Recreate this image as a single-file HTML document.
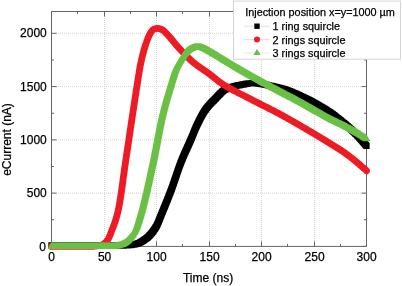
<!DOCTYPE html>
<html><head><meta charset="utf-8"><style>
html,body{margin:0;padding:0;background:#fff;}
body{width:402px;height:286px;overflow:hidden;position:relative;font-family:"Liberation Sans",sans-serif;}
svg{position:absolute;left:0;top:0;will-change:transform;}
text{font-family:"Liberation Sans",sans-serif;font-size:12px;fill:#000;stroke:#000;stroke-width:0.25px;}
text.lg{font-size:10.85px;}
</style></head><body>
<svg width="402" height="286" viewBox="0 0 402 286">
<rect x="0" y="0" width="402" height="286" fill="#ffffff"/>
<g stroke="#d6d6d6" stroke-width="1" stroke-dasharray="1,1" fill="none"><line x1="104.50" y1="12" x2="104.50" y2="246.4"/><line x1="156.50" y1="12" x2="156.50" y2="246.4"/><line x1="209.50" y1="12" x2="209.50" y2="246.4"/><line x1="261.50" y1="12" x2="261.50" y2="246.4"/><line x1="314.50" y1="12" x2="314.50" y2="246.4"/><line x1="52" y1="193.13" x2="366.5" y2="193.13"/><line x1="52" y1="139.86" x2="366.5" y2="139.86"/><line x1="52" y1="86.59" x2="366.5" y2="86.59"/><line x1="52" y1="33.32" x2="366.5" y2="33.32"/></g>
<rect x="51.5" y="11.5" width="315.00" height="234.90" fill="none" stroke="#666" stroke-width="1"/>
<g stroke="#666" stroke-width="1"><line x1="51.50" y1="246.4" x2="51.50" y2="241.4"/><line x1="51.50" y1="11.5" x2="51.50" y2="16.5"/><line x1="77.50" y1="246.4" x2="77.50" y2="243.9"/><line x1="77.50" y1="11.5" x2="77.50" y2="14.0"/><line x1="104.50" y1="246.4" x2="104.50" y2="241.4"/><line x1="104.50" y1="11.5" x2="104.50" y2="16.5"/><line x1="130.50" y1="246.4" x2="130.50" y2="243.9"/><line x1="130.50" y1="11.5" x2="130.50" y2="14.0"/><line x1="156.50" y1="246.4" x2="156.50" y2="241.4"/><line x1="156.50" y1="11.5" x2="156.50" y2="16.5"/><line x1="182.50" y1="246.4" x2="182.50" y2="243.9"/><line x1="182.50" y1="11.5" x2="182.50" y2="14.0"/><line x1="209.50" y1="246.4" x2="209.50" y2="241.4"/><line x1="209.50" y1="11.5" x2="209.50" y2="16.5"/><line x1="235.50" y1="246.4" x2="235.50" y2="243.9"/><line x1="235.50" y1="11.5" x2="235.50" y2="14.0"/><line x1="261.50" y1="246.4" x2="261.50" y2="241.4"/><line x1="261.50" y1="11.5" x2="261.50" y2="16.5"/><line x1="287.50" y1="246.4" x2="287.50" y2="243.9"/><line x1="287.50" y1="11.5" x2="287.50" y2="14.0"/><line x1="314.50" y1="246.4" x2="314.50" y2="241.4"/><line x1="314.50" y1="11.5" x2="314.50" y2="16.5"/><line x1="340.50" y1="246.4" x2="340.50" y2="243.9"/><line x1="340.50" y1="11.5" x2="340.50" y2="14.0"/><line x1="366.50" y1="246.4" x2="366.50" y2="241.4"/><line x1="366.50" y1="11.5" x2="366.50" y2="16.5"/><line x1="51.5" y1="246.40" x2="56.5" y2="246.40"/><line x1="366.5" y1="246.40" x2="361.5" y2="246.40"/><line x1="51.5" y1="219.77" x2="54.0" y2="219.77"/><line x1="366.5" y1="219.77" x2="364.0" y2="219.77"/><line x1="51.5" y1="193.13" x2="56.5" y2="193.13"/><line x1="366.5" y1="193.13" x2="361.5" y2="193.13"/><line x1="51.5" y1="166.50" x2="54.0" y2="166.50"/><line x1="366.5" y1="166.50" x2="364.0" y2="166.50"/><line x1="51.5" y1="139.86" x2="56.5" y2="139.86"/><line x1="366.5" y1="139.86" x2="361.5" y2="139.86"/><line x1="51.5" y1="113.22" x2="54.0" y2="113.22"/><line x1="366.5" y1="113.22" x2="364.0" y2="113.22"/><line x1="51.5" y1="86.59" x2="56.5" y2="86.59"/><line x1="366.5" y1="86.59" x2="361.5" y2="86.59"/><line x1="51.5" y1="59.95" x2="54.0" y2="59.95"/><line x1="366.5" y1="59.95" x2="364.0" y2="59.95"/><line x1="51.5" y1="33.32" x2="56.5" y2="33.32"/><line x1="366.5" y1="33.32" x2="361.5" y2="33.32"/></g>
<path d="M48.35,242.35h6.3v6.3h-6.3zM49.35,242.35h6.3v6.3h-6.3zM50.35,242.35h6.3v6.3h-6.3zM51.36,242.35h6.3v6.3h-6.3zM52.36,242.35h6.3v6.3h-6.3zM53.36,242.35h6.3v6.3h-6.3zM54.36,242.35h6.3v6.3h-6.3zM55.37,242.35h6.3v6.3h-6.3zM56.37,242.35h6.3v6.3h-6.3zM57.37,242.35h6.3v6.3h-6.3zM58.37,242.35h6.3v6.3h-6.3zM59.37,242.35h6.3v6.3h-6.3zM60.38,242.35h6.3v6.3h-6.3zM61.38,242.35h6.3v6.3h-6.3zM62.38,242.35h6.3v6.3h-6.3zM63.38,242.35h6.3v6.3h-6.3zM64.39,242.35h6.3v6.3h-6.3zM65.39,242.35h6.3v6.3h-6.3zM66.39,242.35h6.3v6.3h-6.3zM67.39,242.35h6.3v6.3h-6.3zM68.39,242.35h6.3v6.3h-6.3zM69.40,242.35h6.3v6.3h-6.3zM70.40,242.35h6.3v6.3h-6.3zM71.40,242.35h6.3v6.3h-6.3zM72.40,242.35h6.3v6.3h-6.3zM73.41,242.35h6.3v6.3h-6.3zM74.41,242.35h6.3v6.3h-6.3zM75.41,242.35h6.3v6.3h-6.3zM76.41,242.35h6.3v6.3h-6.3zM77.41,242.35h6.3v6.3h-6.3zM78.42,242.35h6.3v6.3h-6.3zM79.42,242.35h6.3v6.3h-6.3zM80.42,242.35h6.3v6.3h-6.3zM81.42,242.35h6.3v6.3h-6.3zM82.43,242.35h6.3v6.3h-6.3zM83.43,242.35h6.3v6.3h-6.3zM84.43,242.35h6.3v6.3h-6.3zM85.43,242.35h6.3v6.3h-6.3zM86.44,242.35h6.3v6.3h-6.3zM87.44,242.35h6.3v6.3h-6.3zM88.44,242.35h6.3v6.3h-6.3zM89.44,242.35h6.3v6.3h-6.3zM90.44,242.35h6.3v6.3h-6.3zM91.45,242.35h6.3v6.3h-6.3zM92.45,242.35h6.3v6.3h-6.3zM93.45,242.35h6.3v6.3h-6.3zM94.45,242.35h6.3v6.3h-6.3zM95.46,242.35h6.3v6.3h-6.3zM96.46,242.35h6.3v6.3h-6.3zM97.46,242.35h6.3v6.3h-6.3zM98.46,242.35h6.3v6.3h-6.3zM99.46,242.35h6.3v6.3h-6.3zM100.47,242.35h6.3v6.3h-6.3zM101.47,242.35h6.3v6.3h-6.3zM102.47,242.35h6.3v6.3h-6.3zM103.47,242.35h6.3v6.3h-6.3zM104.48,242.35h6.3v6.3h-6.3zM105.48,242.35h6.3v6.3h-6.3zM106.48,242.35h6.3v6.3h-6.3zM107.48,242.35h6.3v6.3h-6.3zM108.48,242.35h6.3v6.3h-6.3zM109.49,242.35h6.3v6.3h-6.3zM110.49,242.35h6.3v6.3h-6.3zM111.49,242.35h6.3v6.3h-6.3zM112.49,242.35h6.3v6.3h-6.3zM113.50,242.35h6.3v6.3h-6.3zM114.50,242.35h6.3v6.3h-6.3zM115.50,242.35h6.3v6.3h-6.3zM116.50,242.35h6.3v6.3h-6.3zM117.50,242.35h6.3v6.3h-6.3zM118.51,242.35h6.3v6.3h-6.3zM119.51,242.35h6.3v6.3h-6.3zM120.51,242.35h6.3v6.3h-6.3zM121.51,242.32h6.3v6.3h-6.3zM122.51,242.28h6.3v6.3h-6.3zM123.51,242.22h6.3v6.3h-6.3zM124.51,242.15h6.3v6.3h-6.3zM125.51,242.05h6.3v6.3h-6.3zM126.51,241.95h6.3v6.3h-6.3zM127.50,241.83h6.3v6.3h-6.3zM128.50,241.70h6.3v6.3h-6.3zM129.49,241.56h6.3v6.3h-6.3zM130.48,241.41h6.3v6.3h-6.3zM131.47,241.26h6.3v6.3h-6.3zM132.45,241.05h6.3v6.3h-6.3zM133.42,240.78h6.3v6.3h-6.3zM134.36,240.44h6.3v6.3h-6.3zM135.29,240.06h6.3v6.3h-6.3zM136.19,239.64h6.3v6.3h-6.3zM137.09,239.18h6.3v6.3h-6.3zM137.96,238.69h6.3v6.3h-6.3zM138.83,238.18h6.3v6.3h-6.3zM139.68,237.66h6.3v6.3h-6.3zM140.52,237.11h6.3v6.3h-6.3zM141.36,236.56h6.3v6.3h-6.3zM142.19,236.00h6.3v6.3h-6.3zM143.00,235.41h6.3v6.3h-6.3zM143.79,234.79h6.3v6.3h-6.3zM144.54,234.14h6.3v6.3h-6.3zM145.28,233.45h6.3v6.3h-6.3zM145.99,232.75h6.3v6.3h-6.3zM146.68,232.02h6.3v6.3h-6.3zM147.35,231.27h6.3v6.3h-6.3zM148.00,230.51h6.3v6.3h-6.3zM148.63,229.73h6.3v6.3h-6.3zM149.25,228.95h6.3v6.3h-6.3zM149.86,228.15h6.3v6.3h-6.3zM150.45,227.34h6.3v6.3h-6.3zM151.02,226.52h6.3v6.3h-6.3zM151.59,225.69h6.3v6.3h-6.3zM152.14,224.85h6.3v6.3h-6.3zM152.68,224.01h6.3v6.3h-6.3zM153.19,223.14h6.3v6.3h-6.3zM153.66,222.26h6.3v6.3h-6.3zM154.10,221.36h6.3v6.3h-6.3zM154.52,220.45h6.3v6.3h-6.3zM154.93,219.53h6.3v6.3h-6.3zM155.32,218.61h6.3v6.3h-6.3zM155.70,217.69h6.3v6.3h-6.3zM156.08,216.76h6.3v6.3h-6.3zM156.46,215.83h6.3v6.3h-6.3zM156.82,214.90h6.3v6.3h-6.3zM157.19,213.96h6.3v6.3h-6.3zM157.56,213.03h6.3v6.3h-6.3zM157.93,212.10h6.3v6.3h-6.3zM158.30,211.17h6.3v6.3h-6.3zM158.67,210.24h6.3v6.3h-6.3zM159.05,209.31h6.3v6.3h-6.3zM159.44,208.39h6.3v6.3h-6.3zM159.82,207.46h6.3v6.3h-6.3zM160.21,206.54h6.3v6.3h-6.3zM160.59,205.61h6.3v6.3h-6.3zM160.98,204.68h6.3v6.3h-6.3zM161.36,203.76h6.3v6.3h-6.3zM161.74,202.83h6.3v6.3h-6.3zM162.12,201.90h6.3v6.3h-6.3zM162.50,200.97h6.3v6.3h-6.3zM162.87,200.05h6.3v6.3h-6.3zM163.25,199.12h6.3v6.3h-6.3zM163.62,198.19h6.3v6.3h-6.3zM164.00,197.26h6.3v6.3h-6.3zM164.37,196.33h6.3v6.3h-6.3zM164.74,195.39h6.3v6.3h-6.3zM165.11,194.46h6.3v6.3h-6.3zM165.47,193.53h6.3v6.3h-6.3zM165.84,192.60h6.3v6.3h-6.3zM166.20,191.66h6.3v6.3h-6.3zM166.56,190.73h6.3v6.3h-6.3zM166.92,189.79h6.3v6.3h-6.3zM167.28,188.86h6.3v6.3h-6.3zM167.64,187.92h6.3v6.3h-6.3zM167.99,186.98h6.3v6.3h-6.3zM168.34,186.04h6.3v6.3h-6.3zM168.69,185.10h6.3v6.3h-6.3zM169.03,184.16h6.3v6.3h-6.3zM169.36,183.21h6.3v6.3h-6.3zM169.70,182.27h6.3v6.3h-6.3zM170.03,181.32h6.3v6.3h-6.3zM170.36,180.38h6.3v6.3h-6.3zM170.69,179.43h6.3v6.3h-6.3zM171.01,178.48h6.3v6.3h-6.3zM171.34,177.53h6.3v6.3h-6.3zM171.66,176.58h6.3v6.3h-6.3zM171.98,175.64h6.3v6.3h-6.3zM172.30,174.69h6.3v6.3h-6.3zM172.62,173.74h6.3v6.3h-6.3zM172.94,172.79h6.3v6.3h-6.3zM173.27,171.84h6.3v6.3h-6.3zM173.59,170.89h6.3v6.3h-6.3zM173.91,169.94h6.3v6.3h-6.3zM174.24,168.99h6.3v6.3h-6.3zM174.56,168.04h6.3v6.3h-6.3zM174.89,167.10h6.3v6.3h-6.3zM175.22,166.15h6.3v6.3h-6.3zM175.55,165.21h6.3v6.3h-6.3zM175.89,164.26h6.3v6.3h-6.3zM176.23,163.32h6.3v6.3h-6.3zM176.57,162.38h6.3v6.3h-6.3zM176.92,161.44h6.3v6.3h-6.3zM177.28,160.50h6.3v6.3h-6.3zM177.64,159.57h6.3v6.3h-6.3zM178.00,158.63h6.3v6.3h-6.3zM178.37,157.70h6.3v6.3h-6.3zM178.75,156.77h6.3v6.3h-6.3zM179.13,155.85h6.3v6.3h-6.3zM179.51,154.92h6.3v6.3h-6.3zM179.90,154.00h6.3v6.3h-6.3zM180.30,153.07h6.3v6.3h-6.3zM180.69,152.15h6.3v6.3h-6.3zM181.09,151.24h6.3v6.3h-6.3zM181.50,150.32h6.3v6.3h-6.3zM181.90,149.40h6.3v6.3h-6.3zM182.31,148.49h6.3v6.3h-6.3zM182.72,147.57h6.3v6.3h-6.3zM183.13,146.66h6.3v6.3h-6.3zM183.55,145.74h6.3v6.3h-6.3zM183.96,144.83h6.3v6.3h-6.3zM184.37,143.92h6.3v6.3h-6.3zM184.79,143.01h6.3v6.3h-6.3zM185.20,142.09h6.3v6.3h-6.3zM185.61,141.18h6.3v6.3h-6.3zM186.02,140.26h6.3v6.3h-6.3zM186.43,139.35h6.3v6.3h-6.3zM186.83,138.43h6.3v6.3h-6.3zM187.24,137.51h6.3v6.3h-6.3zM187.64,136.59h6.3v6.3h-6.3zM188.03,135.67h6.3v6.3h-6.3zM188.42,134.75h6.3v6.3h-6.3zM188.81,133.83h6.3v6.3h-6.3zM189.19,132.90h6.3v6.3h-6.3zM189.57,131.97h6.3v6.3h-6.3zM189.95,131.04h6.3v6.3h-6.3zM190.33,130.12h6.3v6.3h-6.3zM190.70,129.19h6.3v6.3h-6.3zM191.08,128.26h6.3v6.3h-6.3zM191.47,127.33h6.3v6.3h-6.3zM191.85,126.41h6.3v6.3h-6.3zM192.25,125.49h6.3v6.3h-6.3zM192.64,124.57h6.3v6.3h-6.3zM193.05,123.65h6.3v6.3h-6.3zM193.47,122.74h6.3v6.3h-6.3zM193.89,121.83h6.3v6.3h-6.3zM194.33,120.93h6.3v6.3h-6.3zM194.77,120.03h6.3v6.3h-6.3zM195.21,119.13h6.3v6.3h-6.3zM195.65,118.23h6.3v6.3h-6.3zM196.10,117.33h6.3v6.3h-6.3zM196.55,116.44h6.3v6.3h-6.3zM197.00,115.54h6.3v6.3h-6.3zM197.46,114.65h6.3v6.3h-6.3zM197.93,113.77h6.3v6.3h-6.3zM198.40,112.88h6.3v6.3h-6.3zM198.89,112.01h6.3v6.3h-6.3zM199.38,111.13h6.3v6.3h-6.3zM199.89,110.27h6.3v6.3h-6.3zM200.40,109.41h6.3v6.3h-6.3zM200.94,108.56h6.3v6.3h-6.3zM201.49,107.72h6.3v6.3h-6.3zM202.06,106.90h6.3v6.3h-6.3zM202.65,106.09h6.3v6.3h-6.3zM203.25,105.29h6.3v6.3h-6.3zM203.87,104.50h6.3v6.3h-6.3zM204.50,103.72h6.3v6.3h-6.3zM205.15,102.96h6.3v6.3h-6.3zM205.80,102.20h6.3v6.3h-6.3zM206.47,101.45h6.3v6.3h-6.3zM207.15,100.71h6.3v6.3h-6.3zM207.84,99.99h6.3v6.3h-6.3zM208.53,99.26h6.3v6.3h-6.3zM209.24,98.55h6.3v6.3h-6.3zM209.94,97.84h6.3v6.3h-6.3zM210.65,97.13h6.3v6.3h-6.3zM211.36,96.42h6.3v6.3h-6.3zM212.06,95.71h6.3v6.3h-6.3zM212.76,94.99h6.3v6.3h-6.3zM213.46,94.26h6.3v6.3h-6.3zM214.14,93.53h6.3v6.3h-6.3zM214.82,92.80h6.3v6.3h-6.3zM215.50,92.06h6.3v6.3h-6.3zM216.19,91.33h6.3v6.3h-6.3zM216.88,90.61h6.3v6.3h-6.3zM217.59,89.89h6.3v6.3h-6.3zM218.31,89.20h6.3v6.3h-6.3zM219.05,88.53h6.3v6.3h-6.3zM219.82,87.89h6.3v6.3h-6.3zM220.63,87.29h6.3v6.3h-6.3zM221.48,86.76h6.3v6.3h-6.3zM222.38,86.31h6.3v6.3h-6.3zM223.29,85.90h6.3v6.3h-6.3zM224.21,85.51h6.3v6.3h-6.3zM225.14,85.13h6.3v6.3h-6.3zM226.08,84.78h6.3v6.3h-6.3zM227.02,84.44h6.3v6.3h-6.3zM227.97,84.12h6.3v6.3h-6.3zM228.93,83.82h6.3v6.3h-6.3zM229.89,83.53h6.3v6.3h-6.3zM230.85,83.26h6.3v6.3h-6.3zM231.82,83.01h6.3v6.3h-6.3zM232.79,82.77h6.3v6.3h-6.3zM233.77,82.54h6.3v6.3h-6.3zM234.75,82.32h6.3v6.3h-6.3zM235.73,82.11h6.3v6.3h-6.3zM236.71,81.91h6.3v6.3h-6.3zM237.69,81.71h6.3v6.3h-6.3zM238.68,81.52h6.3v6.3h-6.3zM239.66,81.33h6.3v6.3h-6.3zM240.64,81.13h6.3v6.3h-6.3zM241.63,80.94h6.3v6.3h-6.3zM242.61,80.76h6.3v6.3h-6.3zM243.60,80.59h6.3v6.3h-6.3zM244.59,80.43h6.3v6.3h-6.3zM245.58,80.31h6.3v6.3h-6.3zM246.58,80.21h6.3v6.3h-6.3zM247.58,80.14h6.3v6.3h-6.3zM248.58,80.11h6.3v6.3h-6.3zM249.59,80.11h6.3v6.3h-6.3zM250.59,80.14h6.3v6.3h-6.3zM251.59,80.18h6.3v6.3h-6.3zM252.59,80.24h6.3v6.3h-6.3zM253.59,80.31h6.3v6.3h-6.3zM254.59,80.41h6.3v6.3h-6.3zM255.58,80.51h6.3v6.3h-6.3zM256.58,80.63h6.3v6.3h-6.3zM257.57,80.76h6.3v6.3h-6.3zM258.56,80.91h6.3v6.3h-6.3zM259.55,81.06h6.3v6.3h-6.3zM260.54,81.23h6.3v6.3h-6.3zM261.53,81.41h6.3v6.3h-6.3zM262.51,81.59h6.3v6.3h-6.3zM263.50,81.79h6.3v6.3h-6.3zM264.48,81.99h6.3v6.3h-6.3zM265.46,82.20h6.3v6.3h-6.3zM266.44,82.41h6.3v6.3h-6.3zM267.42,82.63h6.3v6.3h-6.3zM268.39,82.85h6.3v6.3h-6.3zM269.37,83.08h6.3v6.3h-6.3zM270.34,83.31h6.3v6.3h-6.3zM271.32,83.55h6.3v6.3h-6.3zM272.29,83.78h6.3v6.3h-6.3zM273.27,84.02h6.3v6.3h-6.3zM274.24,84.26h6.3v6.3h-6.3zM275.21,84.50h6.3v6.3h-6.3zM276.19,84.73h6.3v6.3h-6.3zM277.16,84.97h6.3v6.3h-6.3zM278.13,85.22h6.3v6.3h-6.3zM279.10,85.48h6.3v6.3h-6.3zM280.06,85.77h6.3v6.3h-6.3zM281.02,86.06h6.3v6.3h-6.3zM281.97,86.37h6.3v6.3h-6.3zM282.92,86.70h6.3v6.3h-6.3zM283.86,87.03h6.3v6.3h-6.3zM284.80,87.38h6.3v6.3h-6.3zM285.74,87.73h6.3v6.3h-6.3zM286.67,88.10h6.3v6.3h-6.3zM287.60,88.47h6.3v6.3h-6.3zM288.53,88.85h6.3v6.3h-6.3zM289.45,89.24h6.3v6.3h-6.3zM290.38,89.64h6.3v6.3h-6.3zM291.29,90.04h6.3v6.3h-6.3zM292.21,90.45h6.3v6.3h-6.3zM293.12,90.86h6.3v6.3h-6.3zM294.04,91.27h6.3v6.3h-6.3zM294.95,91.69h6.3v6.3h-6.3zM295.86,92.11h6.3v6.3h-6.3zM296.76,92.54h6.3v6.3h-6.3zM297.67,92.96h6.3v6.3h-6.3zM298.58,93.39h6.3v6.3h-6.3zM299.48,93.82h6.3v6.3h-6.3zM300.39,94.25h6.3v6.3h-6.3zM301.30,94.68h6.3v6.3h-6.3zM302.20,95.11h6.3v6.3h-6.3zM303.10,95.54h6.3v6.3h-6.3zM304.01,95.98h6.3v6.3h-6.3zM304.90,96.42h6.3v6.3h-6.3zM305.80,96.87h6.3v6.3h-6.3zM306.69,97.33h6.3v6.3h-6.3zM307.58,97.79h6.3v6.3h-6.3zM308.47,98.25h6.3v6.3h-6.3zM309.36,98.72h6.3v6.3h-6.3zM310.24,99.20h6.3v6.3h-6.3zM311.12,99.68h6.3v6.3h-6.3zM311.99,100.16h6.3v6.3h-6.3zM312.87,100.65h6.3v6.3h-6.3zM313.74,101.15h6.3v6.3h-6.3zM314.61,101.65h6.3v6.3h-6.3zM315.48,102.15h6.3v6.3h-6.3zM316.34,102.66h6.3v6.3h-6.3zM317.20,103.17h6.3v6.3h-6.3zM318.06,103.69h6.3v6.3h-6.3zM318.92,104.21h6.3v6.3h-6.3zM319.77,104.73h6.3v6.3h-6.3zM320.62,105.26h6.3v6.3h-6.3zM321.47,105.79h6.3v6.3h-6.3zM322.32,106.33h6.3v6.3h-6.3zM323.17,106.87h6.3v6.3h-6.3zM324.01,107.41h6.3v6.3h-6.3zM324.85,107.96h6.3v6.3h-6.3zM325.69,108.51h6.3v6.3h-6.3zM326.52,109.06h6.3v6.3h-6.3zM327.35,109.62h6.3v6.3h-6.3zM328.18,110.19h6.3v6.3h-6.3zM328.99,110.77h6.3v6.3h-6.3zM329.81,111.36h6.3v6.3h-6.3zM330.61,111.95h6.3v6.3h-6.3zM331.42,112.55h6.3v6.3h-6.3zM332.21,113.16h6.3v6.3h-6.3zM333.01,113.77h6.3v6.3h-6.3zM333.80,114.39h6.3v6.3h-6.3zM334.58,115.01h6.3v6.3h-6.3zM335.36,115.64h6.3v6.3h-6.3zM336.14,116.27h6.3v6.3h-6.3zM336.92,116.90h6.3v6.3h-6.3zM337.70,117.53h6.3v6.3h-6.3zM338.47,118.17h6.3v6.3h-6.3zM339.25,118.81h6.3v6.3h-6.3zM340.02,119.45h6.3v6.3h-6.3zM340.79,120.09h6.3v6.3h-6.3zM341.56,120.73h6.3v6.3h-6.3zM342.33,121.37h6.3v6.3h-6.3zM343.09,122.02h6.3v6.3h-6.3zM343.86,122.67h6.3v6.3h-6.3zM344.62,123.32h6.3v6.3h-6.3zM345.38,123.97h6.3v6.3h-6.3zM346.13,124.63h6.3v6.3h-6.3zM346.88,125.30h6.3v6.3h-6.3zM347.62,125.97h6.3v6.3h-6.3zM348.36,126.65h6.3v6.3h-6.3zM349.10,127.33h6.3v6.3h-6.3zM349.83,128.01h6.3v6.3h-6.3zM350.55,128.71h6.3v6.3h-6.3zM351.27,129.41h6.3v6.3h-6.3zM351.98,130.11h6.3v6.3h-6.3zM352.69,130.82h6.3v6.3h-6.3zM353.39,131.54h6.3v6.3h-6.3zM354.09,132.26h6.3v6.3h-6.3zM354.78,132.99h6.3v6.3h-6.3zM355.46,133.72h6.3v6.3h-6.3zM356.14,134.45h6.3v6.3h-6.3zM356.82,135.19h6.3v6.3h-6.3zM357.49,135.94h6.3v6.3h-6.3zM358.16,136.68h6.3v6.3h-6.3zM358.82,137.43h6.3v6.3h-6.3zM359.48,138.19h6.3v6.3h-6.3zM360.14,138.95h6.3v6.3h-6.3zM360.79,139.71h6.3v6.3h-6.3zM361.43,140.48h6.3v6.3h-6.3zM362.08,141.25h6.3v6.3h-6.3zM362.71,142.02h6.3v6.3h-6.3zM363.35,142.79h6.3v6.3h-6.3z" fill="#000"/>
<polyline points="51.50,246.46 52.02,246.46 52.55,246.46 53.08,246.46 53.60,246.46 54.12,246.46 54.65,246.46 55.17,246.46 55.70,246.46 56.23,246.46 56.75,246.46 57.27,246.46 57.80,246.46 58.33,246.46 58.85,246.46 59.38,246.46 59.90,246.46 60.42,246.46 60.95,246.46 61.48,246.46 62.00,246.46 62.52,246.46 63.05,246.46 63.58,246.46 64.10,246.46 64.62,246.46 65.15,246.46 65.67,246.46 66.20,246.46 66.72,246.46 67.25,246.46 67.78,246.46 68.30,246.46 68.83,246.46 69.35,246.46 69.88,246.46 70.40,246.46 70.92,246.46 71.45,246.46 71.97,246.46 72.50,246.46 73.03,246.46 73.55,246.46 74.08,246.46 74.60,246.46 75.12,246.46 75.65,246.46 76.17,246.46 76.70,246.46 77.22,246.46 77.75,246.46 78.28,246.46 78.80,246.46 79.33,246.46 79.85,246.46 80.38,246.46 80.90,246.46 81.42,246.46 81.95,246.46 82.47,246.46 83.00,246.46 83.53,246.46 84.05,246.46 84.58,246.46 85.10,246.46 85.62,246.46 86.15,246.46 86.68,246.46 87.20,246.46 87.72,246.46 88.25,246.46 88.78,246.45 89.30,246.45 89.83,246.44 90.35,246.43 90.88,246.41 91.40,246.39 91.93,246.36 92.45,246.34 92.97,246.30 93.50,246.27 94.03,246.23 94.55,246.19 95.08,246.14 95.60,246.09 96.12,246.04 96.65,245.99 97.18,245.93 97.70,245.86 98.22,245.80 98.75,245.73 99.28,245.66 99.80,245.58 100.33,245.50 100.85,245.39 101.38,245.23 101.90,245.02 102.43,244.76 102.95,244.46 103.47,244.11 104.00,243.73 104.53,243.31 105.05,242.86 105.58,242.39 106.10,241.88 106.62,241.36 107.15,240.76 107.68,240.00 108.20,239.09 108.72,238.05 109.25,236.91 109.78,235.69 110.30,234.40 110.83,233.07 111.35,231.71 111.88,230.36 112.40,229.03 112.93,227.69 113.45,226.32 113.97,224.91 114.50,223.45 115.03,221.92 115.55,220.32 116.08,218.62 116.60,216.83 117.12,214.92 117.65,212.88 118.17,210.68 118.70,208.18 119.23,205.41 119.75,202.39 120.28,199.16 120.80,195.74 121.33,192.18 121.85,188.50 122.38,184.73 122.90,180.91 123.42,177.06 123.95,173.23 124.48,169.43 125.00,165.70 125.53,162.08 126.05,158.58 126.58,155.08 127.10,151.57 127.62,148.04 128.15,144.50 128.68,140.96 129.20,137.41 129.73,133.86 130.25,130.31 130.78,126.77 131.30,123.24 131.82,119.72 132.35,116.22 132.88,112.74 133.40,109.28 133.93,105.82 134.45,102.36 134.98,98.92 135.50,95.50 136.03,92.12 136.55,88.77 137.07,85.46 137.60,82.10 138.12,78.68 138.65,75.28 139.18,71.97 139.70,68.82 140.23,65.90 140.75,63.28 141.28,60.89 141.80,58.60 142.32,56.40 142.85,54.30 143.38,52.29 143.90,50.36 144.43,48.53 144.95,46.78 145.48,45.12 146.00,43.54 146.53,42.03 147.05,40.59 147.57,39.20 148.10,37.88 148.62,36.64 149.15,35.50 149.68,34.45 150.20,33.53 150.73,32.67 151.25,31.82 151.78,31.04 152.30,30.36 152.82,29.83 153.35,29.49 153.88,29.27 154.40,29.07 154.93,28.89 155.45,28.73 155.98,28.61 156.50,28.51 157.03,28.45 157.55,28.43 158.07,28.45 158.60,28.52 159.12,28.63 159.65,28.76 160.18,28.92 160.70,29.10 161.23,29.29 161.75,29.49 162.28,29.74 162.80,30.06 163.32,30.45 163.85,30.90 164.38,31.39 164.90,31.91 165.43,32.47 165.95,33.03 166.48,33.60 167.00,34.16 167.53,34.70 168.05,35.24 168.57,35.80 169.10,36.38 169.62,36.97 170.15,37.58 170.68,38.20 171.20,38.83 171.73,39.46 172.25,40.11 172.78,40.76 173.30,41.41 173.82,42.06 174.35,42.71 174.88,43.35 175.40,43.99 175.93,44.62 176.45,45.24 176.98,45.85 177.50,46.45 178.03,47.03 178.55,47.60 179.07,48.17 179.60,48.74 180.12,49.31 180.65,49.87 181.18,50.44 181.70,51.00 182.22,51.57 182.75,52.13 183.28,52.68 183.80,53.24 184.33,53.79 184.85,54.33 185.38,54.88 185.90,55.41 186.43,55.95 186.95,56.48 187.47,57.00 188.00,57.52 188.53,58.03 189.05,58.54 189.58,59.04 190.10,59.53 190.62,60.01 191.15,60.49 191.68,60.96 192.20,61.42 192.72,61.88 193.25,62.33 193.78,62.76 194.30,63.19 194.83,63.61 195.35,64.02 195.88,64.43 196.40,64.83 196.93,65.22 197.45,65.61 197.97,65.99 198.50,66.37 199.03,66.74 199.55,67.11 200.08,67.48 200.60,67.84 201.12,68.20 201.65,68.56 202.18,68.92 202.70,69.27 203.22,69.63 203.75,69.99 204.28,70.34 204.80,70.70 205.33,71.06 205.85,71.42 206.38,71.78 206.90,72.15 207.43,72.52 207.95,72.89 208.47,73.27 209.00,73.65 209.53,74.04 210.05,74.43 210.58,74.84 211.10,75.24 211.62,75.66 212.15,76.07 212.68,76.49 213.20,76.92 213.72,77.34 214.25,77.77 214.78,78.20 215.30,78.62 215.83,79.05 216.35,79.47 216.88,79.89 217.40,80.31 217.93,80.72 218.45,81.13 218.97,81.53 219.50,81.92 220.03,82.31 220.55,82.68 221.08,83.05 221.60,83.40 222.12,83.75 222.65,84.09 223.18,84.42 223.70,84.75 224.22,85.08 224.75,85.40 225.28,85.72 225.80,86.04 226.33,86.35 226.85,86.66 227.38,86.97 227.90,87.27 228.43,87.57 228.95,87.87 229.47,88.17 230.00,88.46 230.53,88.75 231.05,89.04 231.58,89.33 232.10,89.61 232.62,89.89 233.15,90.17 233.68,90.45 234.20,90.73 234.72,91.00 235.25,91.27 235.78,91.55 236.30,91.82 236.83,92.09 237.35,92.36 237.88,92.62 238.40,92.89 238.93,93.16 239.45,93.42 239.97,93.69 240.50,93.95 241.03,94.22 241.55,94.48 242.08,94.74 242.60,95.01 243.12,95.27 243.65,95.54 244.18,95.80 244.70,96.07 245.22,96.33 245.75,96.60 246.28,96.87 246.80,97.14 247.33,97.41 247.85,97.68 248.38,97.95 248.90,98.22 249.43,98.50 249.95,98.77 250.47,99.05 251.00,99.32 251.53,99.60 252.05,99.87 252.58,100.14 253.10,100.41 253.62,100.68 254.15,100.95 254.68,101.22 255.20,101.49 255.73,101.76 256.25,102.03 256.77,102.29 257.30,102.56 257.83,102.83 258.35,103.09 258.88,103.36 259.40,103.62 259.93,103.89 260.45,104.15 260.98,104.42 261.50,104.68 262.02,104.94 262.55,105.21 263.08,105.47 263.60,105.73 264.12,106.00 264.65,106.26 265.18,106.53 265.70,106.79 266.23,107.06 266.75,107.32 267.27,107.58 267.80,107.85 268.33,108.12 268.85,108.38 269.38,108.65 269.90,108.91 270.43,109.18 270.95,109.45 271.48,109.72 272.00,109.99 272.52,110.26 273.05,110.53 273.58,110.80 274.10,111.07 274.62,111.34 275.15,111.61 275.68,111.89 276.20,112.16 276.73,112.44 277.25,112.72 277.77,112.99 278.30,113.27 278.83,113.55 279.35,113.84 279.88,114.12 280.40,114.40 280.93,114.69 281.45,114.97 281.98,115.26 282.50,115.55 283.02,115.83 283.55,116.12 284.08,116.41 284.60,116.70 285.12,116.99 285.65,117.28 286.18,117.58 286.70,117.87 287.23,118.16 287.75,118.46 288.27,118.75 288.80,119.05 289.33,119.34 289.85,119.64 290.38,119.94 290.90,120.24 291.43,120.53 291.95,120.83 292.48,121.13 293.00,121.43 293.52,121.73 294.05,122.03 294.58,122.34 295.10,122.64 295.62,122.94 296.15,123.24 296.68,123.55 297.20,123.85 297.73,124.15 298.25,124.46 298.77,124.76 299.30,125.06 299.83,125.37 300.35,125.67 300.88,125.98 301.40,126.29 301.93,126.59 302.45,126.90 302.98,127.20 303.50,127.51 304.02,127.82 304.55,128.12 305.08,128.43 305.60,128.74 306.12,129.04 306.65,129.35 307.18,129.66 307.70,129.97 308.23,130.27 308.75,130.58 309.28,130.89 309.80,131.20 310.32,131.51 310.85,131.82 311.38,132.13 311.90,132.44 312.43,132.75 312.95,133.07 313.48,133.38 314.00,133.69 314.53,134.00 315.05,134.31 315.57,134.63 316.10,134.94 316.62,135.26 317.15,135.57 317.68,135.89 318.20,136.20 318.73,136.52 319.25,136.83 319.78,137.15 320.30,137.47 320.82,137.79 321.35,138.10 321.88,138.42 322.40,138.74 322.93,139.06 323.45,139.38 323.98,139.70 324.50,140.02 325.03,140.34 325.55,140.67 326.07,140.99 326.60,141.31 327.12,141.64 327.65,141.96 328.18,142.29 328.70,142.61 329.23,142.94 329.75,143.26 330.28,143.59 330.80,143.92 331.32,144.24 331.85,144.56 332.38,144.89 332.90,145.21 333.43,145.53 333.95,145.86 334.48,146.18 335.00,146.50 335.53,146.83 336.05,147.15 336.57,147.48 337.10,147.80 337.62,148.13 338.15,148.46 338.68,148.80 339.20,149.13 339.73,149.47 340.25,149.81 340.78,150.15 341.30,150.49 341.82,150.84 342.35,151.19 342.88,151.55 343.40,151.91 343.93,152.27 344.45,152.63 344.98,153.01 345.50,153.38 346.03,153.76 346.55,154.14 347.07,154.53 347.60,154.92 348.12,155.31 348.65,155.70 349.18,156.10 349.70,156.50 350.23,156.90 350.75,157.31 351.28,157.72 351.80,158.13 352.32,158.54 352.85,158.96 353.38,159.38 353.90,159.80 354.43,160.23 354.95,160.66 355.48,161.09 356.00,161.52 356.53,161.96 357.05,162.40 357.57,162.84 358.10,163.29 358.62,163.74 359.15,164.19 359.68,164.64 360.20,165.10 360.73,165.56 361.25,166.02 361.78,166.49 362.30,166.96 362.82,167.43 363.35,167.90 363.88,168.38 364.40,168.86 364.93,169.34 365.45,169.83 365.98,170.32 366.50,170.81" fill="none" stroke="#ed1c24" stroke-width="6.8" stroke-linejoin="round" stroke-linecap="round"/>
<path d="M47.50,248.97h8.0l-4.0,-6.93zM48.50,248.97h8.0l-4.0,-6.93zM49.50,248.97h8.0l-4.0,-6.93zM50.50,248.97h8.0l-4.0,-6.93zM51.50,248.97h8.0l-4.0,-6.93zM52.50,248.97h8.0l-4.0,-6.93zM53.50,248.97h8.0l-4.0,-6.93zM54.50,248.97h8.0l-4.0,-6.93zM55.51,248.97h8.0l-4.0,-6.93zM56.51,248.97h8.0l-4.0,-6.93zM57.51,248.97h8.0l-4.0,-6.93zM58.51,248.97h8.0l-4.0,-6.93zM59.51,248.97h8.0l-4.0,-6.93zM60.51,248.97h8.0l-4.0,-6.93zM61.51,248.97h8.0l-4.0,-6.93zM62.51,248.97h8.0l-4.0,-6.93zM63.51,248.97h8.0l-4.0,-6.93zM64.51,248.97h8.0l-4.0,-6.93zM65.51,248.97h8.0l-4.0,-6.93zM66.51,248.97h8.0l-4.0,-6.93zM67.51,248.97h8.0l-4.0,-6.93zM68.51,248.97h8.0l-4.0,-6.93zM69.51,248.97h8.0l-4.0,-6.93zM70.52,248.97h8.0l-4.0,-6.93zM71.52,248.97h8.0l-4.0,-6.93zM72.52,248.97h8.0l-4.0,-6.93zM73.52,248.97h8.0l-4.0,-6.93zM74.52,248.97h8.0l-4.0,-6.93zM75.52,248.97h8.0l-4.0,-6.93zM76.52,248.97h8.0l-4.0,-6.93zM77.52,248.97h8.0l-4.0,-6.93zM78.52,248.97h8.0l-4.0,-6.93zM79.52,248.97h8.0l-4.0,-6.93zM80.52,248.97h8.0l-4.0,-6.93zM81.52,248.97h8.0l-4.0,-6.93zM82.52,248.97h8.0l-4.0,-6.93zM83.52,248.97h8.0l-4.0,-6.93zM84.52,248.97h8.0l-4.0,-6.93zM85.52,248.97h8.0l-4.0,-6.93zM86.53,248.97h8.0l-4.0,-6.93zM87.53,248.97h8.0l-4.0,-6.93zM88.53,248.97h8.0l-4.0,-6.93zM89.53,248.97h8.0l-4.0,-6.93zM90.53,248.97h8.0l-4.0,-6.93zM91.53,248.97h8.0l-4.0,-6.93zM92.53,248.97h8.0l-4.0,-6.93zM93.53,248.97h8.0l-4.0,-6.93zM94.53,248.97h8.0l-4.0,-6.93zM95.53,248.97h8.0l-4.0,-6.93zM96.53,248.97h8.0l-4.0,-6.93zM97.53,248.97h8.0l-4.0,-6.93zM98.53,248.97h8.0l-4.0,-6.93zM99.53,248.97h8.0l-4.0,-6.93zM100.53,248.97h8.0l-4.0,-6.93zM101.54,248.97h8.0l-4.0,-6.93zM102.54,248.97h8.0l-4.0,-6.93zM103.54,248.97h8.0l-4.0,-6.93zM104.54,248.97h8.0l-4.0,-6.93zM105.54,248.97h8.0l-4.0,-6.93zM106.54,248.97h8.0l-4.0,-6.93zM107.54,248.97h8.0l-4.0,-6.93zM108.54,248.96h8.0l-4.0,-6.93zM109.54,248.93h8.0l-4.0,-6.93zM110.54,248.85h8.0l-4.0,-6.93zM111.53,248.72h8.0l-4.0,-6.93zM112.51,248.55h8.0l-4.0,-6.93zM113.49,248.35h8.0l-4.0,-6.93zM114.47,248.12h8.0l-4.0,-6.93zM115.44,247.87h8.0l-4.0,-6.93zM116.41,247.61h8.0l-4.0,-6.93zM117.37,247.34h8.0l-4.0,-6.93zM118.30,246.98h8.0l-4.0,-6.93zM119.20,246.55h8.0l-4.0,-6.93zM120.08,246.06h8.0l-4.0,-6.93zM120.93,245.53h8.0l-4.0,-6.93zM121.76,244.98h8.0l-4.0,-6.93zM122.54,244.35h8.0l-4.0,-6.93zM123.27,243.67h8.0l-4.0,-6.93zM123.97,242.95h8.0l-4.0,-6.93zM124.64,242.21h8.0l-4.0,-6.93zM125.29,241.45h8.0l-4.0,-6.93zM125.94,240.68h8.0l-4.0,-6.93zM126.57,239.91h8.0l-4.0,-6.93zM127.18,239.11h8.0l-4.0,-6.93zM127.77,238.31h8.0l-4.0,-6.93zM128.34,237.49h8.0l-4.0,-6.93zM128.90,236.65h8.0l-4.0,-6.93zM129.43,235.81h8.0l-4.0,-6.93zM129.95,234.95h8.0l-4.0,-6.93zM130.44,234.08h8.0l-4.0,-6.93zM130.92,233.20h8.0l-4.0,-6.93zM131.38,232.31h8.0l-4.0,-6.93zM131.82,231.41h8.0l-4.0,-6.93zM132.23,230.50h8.0l-4.0,-6.93zM132.61,229.58h8.0l-4.0,-6.93zM132.97,228.64h8.0l-4.0,-6.93zM133.32,227.70h8.0l-4.0,-6.93zM133.65,226.76h8.0l-4.0,-6.93zM133.97,225.81h8.0l-4.0,-6.93zM134.28,224.86h8.0l-4.0,-6.93zM134.58,223.91h8.0l-4.0,-6.93zM134.88,222.95h8.0l-4.0,-6.93zM135.17,221.99h8.0l-4.0,-6.93zM135.45,221.03h8.0l-4.0,-6.93zM135.74,220.07h8.0l-4.0,-6.93zM136.02,219.11h8.0l-4.0,-6.93zM136.30,218.15h8.0l-4.0,-6.93zM136.58,217.19h8.0l-4.0,-6.93zM136.85,216.23h8.0l-4.0,-6.93zM137.13,215.27h8.0l-4.0,-6.93zM137.41,214.31h8.0l-4.0,-6.93zM137.68,213.34h8.0l-4.0,-6.93zM137.94,212.38h8.0l-4.0,-6.93zM138.21,211.41h8.0l-4.0,-6.93zM138.47,210.45h8.0l-4.0,-6.93zM138.72,209.48h8.0l-4.0,-6.93zM138.98,208.51h8.0l-4.0,-6.93zM139.23,207.54h8.0l-4.0,-6.93zM139.48,206.57h8.0l-4.0,-6.93zM139.72,205.60h8.0l-4.0,-6.93zM139.97,204.63h8.0l-4.0,-6.93zM140.21,203.66h8.0l-4.0,-6.93zM140.45,202.69h8.0l-4.0,-6.93zM140.69,201.72h8.0l-4.0,-6.93zM140.92,200.75h8.0l-4.0,-6.93zM141.16,199.77h8.0l-4.0,-6.93zM141.39,198.80h8.0l-4.0,-6.93zM141.62,197.83h8.0l-4.0,-6.93zM141.85,196.85h8.0l-4.0,-6.93zM142.08,195.88h8.0l-4.0,-6.93zM142.31,194.91h8.0l-4.0,-6.93zM142.53,193.93h8.0l-4.0,-6.93zM142.76,192.95h8.0l-4.0,-6.93zM142.98,191.98h8.0l-4.0,-6.93zM143.20,191.00h8.0l-4.0,-6.93zM143.42,190.03h8.0l-4.0,-6.93zM143.64,189.05h8.0l-4.0,-6.93zM143.86,188.08h8.0l-4.0,-6.93zM144.08,187.10h8.0l-4.0,-6.93zM144.30,186.12h8.0l-4.0,-6.93zM144.52,185.15h8.0l-4.0,-6.93zM144.73,184.17h8.0l-4.0,-6.93zM144.95,183.19h8.0l-4.0,-6.93zM145.16,182.21h8.0l-4.0,-6.93zM145.38,181.24h8.0l-4.0,-6.93zM145.59,180.26h8.0l-4.0,-6.93zM145.81,179.28h8.0l-4.0,-6.93zM146.02,178.30h8.0l-4.0,-6.93zM146.23,177.33h8.0l-4.0,-6.93zM146.45,176.35h8.0l-4.0,-6.93zM146.66,175.37h8.0l-4.0,-6.93zM146.87,174.39h8.0l-4.0,-6.93zM147.08,173.42h8.0l-4.0,-6.93zM147.30,172.44h8.0l-4.0,-6.93zM147.51,171.46h8.0l-4.0,-6.93zM147.72,170.48h8.0l-4.0,-6.93zM147.93,169.50h8.0l-4.0,-6.93zM148.14,168.53h8.0l-4.0,-6.93zM148.35,167.55h8.0l-4.0,-6.93zM148.57,166.57h8.0l-4.0,-6.93zM148.78,165.59h8.0l-4.0,-6.93zM148.99,164.61h8.0l-4.0,-6.93zM149.20,163.64h8.0l-4.0,-6.93zM149.41,162.66h8.0l-4.0,-6.93zM149.62,161.68h8.0l-4.0,-6.93zM149.83,160.70h8.0l-4.0,-6.93zM150.03,159.72h8.0l-4.0,-6.93zM150.23,158.74h8.0l-4.0,-6.93zM150.43,157.76h8.0l-4.0,-6.93zM150.63,156.78h8.0l-4.0,-6.93zM150.83,155.80h8.0l-4.0,-6.93zM151.02,154.82h8.0l-4.0,-6.93zM151.22,153.83h8.0l-4.0,-6.93zM151.41,152.85h8.0l-4.0,-6.93zM151.60,151.87h8.0l-4.0,-6.93zM151.79,150.89h8.0l-4.0,-6.93zM151.98,149.91h8.0l-4.0,-6.93zM152.17,148.92h8.0l-4.0,-6.93zM152.36,147.94h8.0l-4.0,-6.93zM152.54,146.96h8.0l-4.0,-6.93zM152.73,145.97h8.0l-4.0,-6.93zM152.92,144.99h8.0l-4.0,-6.93zM153.10,144.01h8.0l-4.0,-6.93zM153.29,143.02h8.0l-4.0,-6.93zM153.48,142.04h8.0l-4.0,-6.93zM153.66,141.06h8.0l-4.0,-6.93zM153.85,140.08h8.0l-4.0,-6.93zM154.04,139.09h8.0l-4.0,-6.93zM154.22,138.11h8.0l-4.0,-6.93zM154.41,137.13h8.0l-4.0,-6.93zM154.60,136.14h8.0l-4.0,-6.93zM154.79,135.16h8.0l-4.0,-6.93zM154.98,134.18h8.0l-4.0,-6.93zM155.17,133.20h8.0l-4.0,-6.93zM155.36,132.21h8.0l-4.0,-6.93zM155.55,131.23h8.0l-4.0,-6.93zM155.74,130.25h8.0l-4.0,-6.93zM155.94,129.27h8.0l-4.0,-6.93zM156.13,128.29h8.0l-4.0,-6.93zM156.33,127.31h8.0l-4.0,-6.93zM156.53,126.32h8.0l-4.0,-6.93zM156.73,125.34h8.0l-4.0,-6.93zM156.93,124.36h8.0l-4.0,-6.93zM157.14,123.39h8.0l-4.0,-6.93zM157.35,122.41h8.0l-4.0,-6.93zM157.56,121.43h8.0l-4.0,-6.93zM157.77,120.45h8.0l-4.0,-6.93zM157.99,119.47h8.0l-4.0,-6.93zM158.21,118.50h8.0l-4.0,-6.93zM158.43,117.52h8.0l-4.0,-6.93zM158.66,116.55h8.0l-4.0,-6.93zM158.89,115.57h8.0l-4.0,-6.93zM159.13,114.60h8.0l-4.0,-6.93zM159.37,113.63h8.0l-4.0,-6.93zM159.61,112.66h8.0l-4.0,-6.93zM159.86,111.69h8.0l-4.0,-6.93zM160.10,110.72h8.0l-4.0,-6.93zM160.35,109.75h8.0l-4.0,-6.93zM160.61,108.78h8.0l-4.0,-6.93zM160.86,107.82h8.0l-4.0,-6.93zM161.12,106.85h8.0l-4.0,-6.93zM161.39,105.88h8.0l-4.0,-6.93zM161.65,104.92h8.0l-4.0,-6.93zM161.92,103.95h8.0l-4.0,-6.93zM162.19,102.99h8.0l-4.0,-6.93zM162.46,102.03h8.0l-4.0,-6.93zM162.73,101.07h8.0l-4.0,-6.93zM163.01,100.10h8.0l-4.0,-6.93zM163.29,99.14h8.0l-4.0,-6.93zM163.57,98.18h8.0l-4.0,-6.93zM163.85,97.22h8.0l-4.0,-6.93zM164.14,96.26h8.0l-4.0,-6.93zM164.42,95.30h8.0l-4.0,-6.93zM164.71,94.35h8.0l-4.0,-6.93zM165.00,93.39h8.0l-4.0,-6.93zM165.29,92.43h8.0l-4.0,-6.93zM165.58,91.47h8.0l-4.0,-6.93zM165.87,90.51h8.0l-4.0,-6.93zM166.16,89.56h8.0l-4.0,-6.93zM166.45,88.60h8.0l-4.0,-6.93zM166.74,87.64h8.0l-4.0,-6.93zM167.03,86.68h8.0l-4.0,-6.93zM167.31,85.72h8.0l-4.0,-6.93zM167.60,84.77h8.0l-4.0,-6.93zM167.88,83.81h8.0l-4.0,-6.93zM168.17,82.85h8.0l-4.0,-6.93zM168.46,81.89h8.0l-4.0,-6.93zM168.75,80.93h8.0l-4.0,-6.93zM169.04,79.97h8.0l-4.0,-6.93zM169.34,79.02h8.0l-4.0,-6.93zM169.64,78.06h8.0l-4.0,-6.93zM169.94,77.11h8.0l-4.0,-6.93zM170.25,76.16h8.0l-4.0,-6.93zM170.57,75.21h8.0l-4.0,-6.93zM170.89,74.26h8.0l-4.0,-6.93zM171.23,73.32h8.0l-4.0,-6.93zM171.58,72.38h8.0l-4.0,-6.93zM171.94,71.45h8.0l-4.0,-6.93zM172.32,70.52h8.0l-4.0,-6.93zM172.72,69.61h8.0l-4.0,-6.93zM173.15,68.70h8.0l-4.0,-6.93zM173.59,67.81h8.0l-4.0,-6.93zM174.06,66.92h8.0l-4.0,-6.93zM174.55,66.05h8.0l-4.0,-6.93zM175.06,65.19h8.0l-4.0,-6.93zM175.58,64.33h8.0l-4.0,-6.93zM176.12,63.49h8.0l-4.0,-6.93zM176.66,62.65h8.0l-4.0,-6.93zM177.20,61.81h8.0l-4.0,-6.93zM177.75,60.97h8.0l-4.0,-6.93zM178.29,60.13h8.0l-4.0,-6.93zM178.83,59.29h8.0l-4.0,-6.93zM179.38,58.45h8.0l-4.0,-6.93zM179.94,57.62h8.0l-4.0,-6.93zM180.52,56.81h8.0l-4.0,-6.93zM181.12,56.00h8.0l-4.0,-6.93zM181.75,55.23h8.0l-4.0,-6.93zM182.42,54.48h8.0l-4.0,-6.93zM183.14,53.79h8.0l-4.0,-6.93zM183.91,53.16h8.0l-4.0,-6.93zM184.72,52.56h8.0l-4.0,-6.93zM185.55,52.01h8.0l-4.0,-6.93zM186.42,51.51h8.0l-4.0,-6.93zM187.32,51.07h8.0l-4.0,-6.93zM188.24,50.67h8.0l-4.0,-6.93zM189.16,50.28h8.0l-4.0,-6.93zM190.10,49.94h8.0l-4.0,-6.93zM191.08,49.76h8.0l-4.0,-6.93zM192.08,49.75h8.0l-4.0,-6.93zM193.08,49.75h8.0l-4.0,-6.93zM194.08,49.75h8.0l-4.0,-6.93zM195.08,49.75h8.0l-4.0,-6.93zM196.08,49.78h8.0l-4.0,-6.93zM197.06,49.97h8.0l-4.0,-6.93zM198.02,50.27h8.0l-4.0,-6.93zM198.95,50.62h8.0l-4.0,-6.93zM199.89,50.97h8.0l-4.0,-6.93zM200.82,51.34h8.0l-4.0,-6.93zM201.73,51.77h8.0l-4.0,-6.93zM202.62,52.22h8.0l-4.0,-6.93zM203.50,52.70h8.0l-4.0,-6.93zM204.37,53.19h8.0l-4.0,-6.93zM205.24,53.68h8.0l-4.0,-6.93zM206.12,54.16h8.0l-4.0,-6.93zM206.99,54.65h8.0l-4.0,-6.93zM207.86,55.14h8.0l-4.0,-6.93zM208.73,55.64h8.0l-4.0,-6.93zM209.59,56.15h8.0l-4.0,-6.93zM210.45,56.66h8.0l-4.0,-6.93zM211.31,57.18h8.0l-4.0,-6.93zM212.16,57.70h8.0l-4.0,-6.93zM213.01,58.23h8.0l-4.0,-6.93zM213.86,58.75h8.0l-4.0,-6.93zM214.71,59.28h8.0l-4.0,-6.93zM215.56,59.81h8.0l-4.0,-6.93zM216.41,60.34h8.0l-4.0,-6.93zM217.26,60.87h8.0l-4.0,-6.93zM218.11,61.40h8.0l-4.0,-6.93zM218.97,61.92h8.0l-4.0,-6.93zM219.82,62.44h8.0l-4.0,-6.93zM220.67,62.96h8.0l-4.0,-6.93zM221.53,63.48h8.0l-4.0,-6.93zM222.39,63.99h8.0l-4.0,-6.93zM223.25,64.51h8.0l-4.0,-6.93zM224.10,65.03h8.0l-4.0,-6.93zM224.96,65.54h8.0l-4.0,-6.93zM225.82,66.06h8.0l-4.0,-6.93zM226.67,66.58h8.0l-4.0,-6.93zM227.53,67.09h8.0l-4.0,-6.93zM228.39,67.61h8.0l-4.0,-6.93zM229.25,68.12h8.0l-4.0,-6.93zM230.11,68.64h8.0l-4.0,-6.93zM230.97,69.15h8.0l-4.0,-6.93zM231.83,69.66h8.0l-4.0,-6.93zM232.69,70.16h8.0l-4.0,-6.93zM233.55,70.67h8.0l-4.0,-6.93zM234.42,71.18h8.0l-4.0,-6.93zM235.28,71.68h8.0l-4.0,-6.93zM236.14,72.19h8.0l-4.0,-6.93zM237.01,72.69h8.0l-4.0,-6.93zM237.87,73.19h8.0l-4.0,-6.93zM238.74,73.69h8.0l-4.0,-6.93zM239.61,74.19h8.0l-4.0,-6.93zM240.47,74.69h8.0l-4.0,-6.93zM241.34,75.19h8.0l-4.0,-6.93zM242.21,75.69h8.0l-4.0,-6.93zM243.08,76.18h8.0l-4.0,-6.93zM243.95,76.68h8.0l-4.0,-6.93zM244.82,77.17h8.0l-4.0,-6.93zM245.69,77.66h8.0l-4.0,-6.93zM246.56,78.15h8.0l-4.0,-6.93zM247.44,78.64h8.0l-4.0,-6.93zM248.31,79.13h8.0l-4.0,-6.93zM249.18,79.62h8.0l-4.0,-6.93zM250.06,80.11h8.0l-4.0,-6.93zM250.93,80.59h8.0l-4.0,-6.93zM251.81,81.08h8.0l-4.0,-6.93zM252.69,81.56h8.0l-4.0,-6.93zM253.56,82.04h8.0l-4.0,-6.93zM254.44,82.53h8.0l-4.0,-6.93zM255.32,83.01h8.0l-4.0,-6.93zM256.19,83.49h8.0l-4.0,-6.93zM257.07,83.97h8.0l-4.0,-6.93zM257.95,84.45h8.0l-4.0,-6.93zM258.83,84.93h8.0l-4.0,-6.93zM259.71,85.40h8.0l-4.0,-6.93zM260.59,85.88h8.0l-4.0,-6.93zM261.47,86.36h8.0l-4.0,-6.93zM262.35,86.84h8.0l-4.0,-6.93zM263.23,87.31h8.0l-4.0,-6.93zM264.11,87.79h8.0l-4.0,-6.93zM264.99,88.26h8.0l-4.0,-6.93zM265.87,88.74h8.0l-4.0,-6.93zM266.75,89.21h8.0l-4.0,-6.93zM267.63,89.68h8.0l-4.0,-6.93zM268.51,90.16h8.0l-4.0,-6.93zM269.39,90.63h8.0l-4.0,-6.93zM270.28,91.10h8.0l-4.0,-6.93zM271.16,91.58h8.0l-4.0,-6.93zM272.04,92.05h8.0l-4.0,-6.93zM272.93,92.51h8.0l-4.0,-6.93zM273.81,92.98h8.0l-4.0,-6.93zM274.70,93.45h8.0l-4.0,-6.93zM275.58,93.91h8.0l-4.0,-6.93zM276.47,94.38h8.0l-4.0,-6.93zM277.36,94.84h8.0l-4.0,-6.93zM278.24,95.30h8.0l-4.0,-6.93zM279.13,95.76h8.0l-4.0,-6.93zM280.02,96.22h8.0l-4.0,-6.93zM280.91,96.68h8.0l-4.0,-6.93zM281.80,97.14h8.0l-4.0,-6.93zM282.69,97.60h8.0l-4.0,-6.93zM283.57,98.07h8.0l-4.0,-6.93zM284.46,98.53h8.0l-4.0,-6.93zM285.35,98.99h8.0l-4.0,-6.93zM286.24,99.45h8.0l-4.0,-6.93zM287.13,99.91h8.0l-4.0,-6.93zM288.01,100.37h8.0l-4.0,-6.93zM288.90,100.84h8.0l-4.0,-6.93zM289.78,101.30h8.0l-4.0,-6.93zM290.67,101.77h8.0l-4.0,-6.93zM291.55,102.24h8.0l-4.0,-6.93zM292.44,102.71h8.0l-4.0,-6.93zM293.32,103.18h8.0l-4.0,-6.93zM294.20,103.65h8.0l-4.0,-6.93zM295.08,104.13h8.0l-4.0,-6.93zM295.96,104.60h8.0l-4.0,-6.93zM296.84,105.08h8.0l-4.0,-6.93zM297.72,105.56h8.0l-4.0,-6.93zM298.60,106.05h8.0l-4.0,-6.93zM299.47,106.53h8.0l-4.0,-6.93zM300.35,107.02h8.0l-4.0,-6.93zM301.22,107.50h8.0l-4.0,-6.93zM302.09,107.99h8.0l-4.0,-6.93zM302.97,108.48h8.0l-4.0,-6.93zM303.84,108.97h8.0l-4.0,-6.93zM304.71,109.46h8.0l-4.0,-6.93zM305.59,109.95h8.0l-4.0,-6.93zM306.46,110.44h8.0l-4.0,-6.93zM307.33,110.93h8.0l-4.0,-6.93zM308.20,111.42h8.0l-4.0,-6.93zM309.07,111.92h8.0l-4.0,-6.93zM309.94,112.41h8.0l-4.0,-6.93zM310.81,112.90h8.0l-4.0,-6.93zM311.68,113.39h8.0l-4.0,-6.93zM312.55,113.89h8.0l-4.0,-6.93zM313.43,114.38h8.0l-4.0,-6.93zM314.30,114.87h8.0l-4.0,-6.93zM315.17,115.36h8.0l-4.0,-6.93zM316.04,115.86h8.0l-4.0,-6.93zM316.91,116.35h8.0l-4.0,-6.93zM317.77,116.85h8.0l-4.0,-6.93zM318.64,117.36h8.0l-4.0,-6.93zM319.50,117.86h8.0l-4.0,-6.93zM320.37,118.36h8.0l-4.0,-6.93zM321.24,118.86h8.0l-4.0,-6.93zM322.11,119.36h8.0l-4.0,-6.93zM322.98,119.85h8.0l-4.0,-6.93zM323.85,120.34h8.0l-4.0,-6.93zM324.73,120.82h8.0l-4.0,-6.93zM325.61,121.29h8.0l-4.0,-6.93zM326.50,121.75h8.0l-4.0,-6.93zM327.39,122.20h8.0l-4.0,-6.93zM328.29,122.64h8.0l-4.0,-6.93zM329.19,123.08h8.0l-4.0,-6.93zM330.09,123.51h8.0l-4.0,-6.93zM331.00,123.94h8.0l-4.0,-6.93zM331.90,124.37h8.0l-4.0,-6.93zM332.81,124.79h8.0l-4.0,-6.93zM333.72,125.21h8.0l-4.0,-6.93zM334.62,125.64h8.0l-4.0,-6.93zM335.53,126.06h8.0l-4.0,-6.93zM336.43,126.49h8.0l-4.0,-6.93zM337.34,126.92h8.0l-4.0,-6.93zM338.23,127.36h8.0l-4.0,-6.93zM339.13,127.81h8.0l-4.0,-6.93zM340.02,128.26h8.0l-4.0,-6.93zM340.91,128.72h8.0l-4.0,-6.93zM341.80,129.18h8.0l-4.0,-6.93zM342.68,129.65h8.0l-4.0,-6.93zM343.57,130.12h8.0l-4.0,-6.93zM344.45,130.59h8.0l-4.0,-6.93zM345.33,131.06h8.0l-4.0,-6.93zM346.21,131.54h8.0l-4.0,-6.93zM347.09,132.02h8.0l-4.0,-6.93zM347.97,132.50h8.0l-4.0,-6.93zM348.84,132.99h8.0l-4.0,-6.93zM349.71,133.48h8.0l-4.0,-6.93zM350.58,133.98h8.0l-4.0,-6.93zM351.45,134.47h8.0l-4.0,-6.93zM352.32,134.97h8.0l-4.0,-6.93zM353.18,135.48h8.0l-4.0,-6.93zM354.04,135.99h8.0l-4.0,-6.93zM354.90,136.50h8.0l-4.0,-6.93zM355.76,137.02h8.0l-4.0,-6.93zM356.61,137.54h8.0l-4.0,-6.93zM357.46,138.07h8.0l-4.0,-6.93zM358.31,138.61h8.0l-4.0,-6.93zM359.15,139.15h8.0l-4.0,-6.93zM359.99,139.69h8.0l-4.0,-6.93zM360.83,140.23h8.0l-4.0,-6.93zM361.67,140.78h8.0l-4.0,-6.93zM362.50,141.33h8.0l-4.0,-6.93z" fill="#6abf45"/>
<text x="51.60" y="261.2" text-anchor="middle">0</text><text x="104.60" y="261.2" text-anchor="middle">50</text><text x="156.60" y="261.2" text-anchor="middle">100</text><text x="209.60" y="261.2" text-anchor="middle">150</text><text x="261.60" y="261.2" text-anchor="middle">200</text><text x="314.60" y="261.2" text-anchor="middle">250</text><text x="366.60" y="261.2" text-anchor="middle">300</text><text x="46.0" y="250.50" text-anchor="end">0</text><text x="46.8" y="197.23" text-anchor="end">500</text><text x="46.8" y="143.96" text-anchor="end">1000</text><text x="46.8" y="90.69" text-anchor="end">1500</text><text x="46.8" y="37.42" text-anchor="end">2000</text>
<text x="208.1" y="281.8" text-anchor="middle">Time (ns)</text>
<text transform="translate(11,139.5) rotate(-90)" text-anchor="middle">eCurrent (nA)</text>
<rect x="233.5" y="1.1" width="167" height="58.1" fill="#fff" stroke="#d4d4d4" stroke-width="1"/>
<text x="245.2" y="16.2" class="lg">Injection position x=y=1000 µm</text>
<line x1="244.4" y1="26.2" x2="269.5" y2="26.2" stroke="#c8c8c8" stroke-width="0.6"/><text x="272.5" y="30.2" class="lg">1 ring squircle</text>
<line x1="244.4" y1="39.6" x2="269.5" y2="39.6" stroke="#f6b6b8" stroke-width="0.6"/><text x="272.5" y="43.6" class="lg">2 rings squircle</text>
<line x1="244.4" y1="53.0" x2="269.5" y2="53.0" stroke="#c5e5b5" stroke-width="0.6"/><text x="272.5" y="57.0" class="lg">3 rings squircle</text>
<rect x="254.3" y="23.5" width="5.4" height="5.4" fill="#000"/><circle cx="257.0" cy="39.6" r="3" fill="#ed1c24"/><path d="M253.3,55.1 L260.7,55.1 L257.0,49.0 Z" fill="#6abf45"/>
</svg></body></html>
